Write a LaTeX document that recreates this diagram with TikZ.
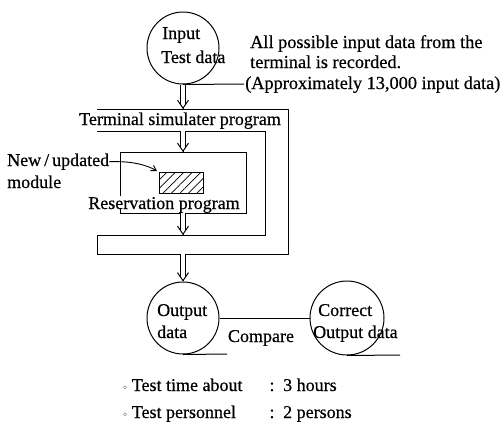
\documentclass[tikz,border=0pt]{standalone}
\usepackage{fontspec}
\setmainfont{Liberation Serif}[FakeBold=0.5]
\usetikzlibrary{arrows.meta,patterns.meta,calc}
\begin{document}
\begin{tikzpicture}[x=1pt,y=-1pt,
  every node/.style={font=\fontsize{18}{22}\selectfont, inner sep=0pt},
  notetext/.style={font=\fontsize{18.3}{22}\selectfont},
  ln/.style={line width=1pt},
  datacirc/.style={circle, draw, line width=1pt, minimum size=#1, inner sep=0pt},
  dblshaft/.style={line width=1pt, double, double distance=3.4pt, shorten >=4.5pt},
  vhead/.style={line width=1pt, -{Straight Barb[length=8pt,width=11pt]}},
  thinarrow/.style={line width=0.9pt, -{Straight Barb[length=5pt,width=6pt]}},
  hatched/.style={draw, line width=1pt, pattern={Lines[angle=45,distance=6pt,line width=0.7pt]}}
]
\useasboundingbox (0,0) rectangle (503,424);
% hollow flow arrow: double shaft ending in an open V head
\newcommand\flowarrow[2]{%
  \draw[dblshaft] (#1) -- (#2);
  \draw[vhead] ($(#2)+(0,-1)$) -- (#2);}

% input tape
\node[datacirc=72pt] (in) at (183,48) {};
\node[anchor=base west] (inA) at (162,39) {Input};
\node[anchor=base west] (inB) at (161,63) {Test data};
\coordinate (intail) at (244,84);
\draw[ln] (in.south) -- (intail);

% note on the recorded data
\node[notetext, anchor=base west] (note1) at (250,48) {All possible input data from the};
\node[notetext, anchor=base west] (note2) at (250,68) {terminal is recorded.};
\node[notetext, anchor=base west] (note3) at (245,89) {(Approximately 13,000 input data)};

% terminal simulator frame
\draw[ln] (97,109) -- (288,109) -- (288,254) -- (97,254) -- (97,235)
  -- (265,235) -- (265,131) -- (97,131);
\node[anchor=base] (term) at (180,125) {Terminal simulater program};

% reservation program box
\draw[ln] (120,196) -- (120,152) -- (246,152) -- (246,213) -- (120,213) -- (120,209);
\node[anchor=base] (res) at (164,209) {Reservation program};
\node[hatched, minimum width=44pt, minimum height=21pt] (mod) at (181,182.5) {};

% new / updated module label
\node[anchor=base west] (nu) at (7,166) {New\,/\,updated};
\node[anchor=base west] (numod) at (7,188) {module};
\coordinate (modtip) at (157,171);
\draw[thinarrow] (nu.east) -- ++(9,0) .. controls +(14,0) and +(-10,-6) .. (modtip);

% flow arrows
\coordinate (f1) at (183,109);
\coordinate (f2) at (183,131);
\coordinate (b1) at (183,152);
\coordinate (b2) at (183,213);
\coordinate (f3) at (183,235);
\coordinate (f4) at (183,254);
\flowarrow{in.south}{f1}
\flowarrow{f2}{b1}
\flowarrow{b2}{f3}

% output tapes
\node[datacirc=72pt] (out) at (183,318) {};
\node[anchor=base west] (outA) at (157,316) {Output};
\node[anchor=base west] (outB) at (157,338) {data};
\coordinate (outtail) at (227,354);
\draw[ln] (out.south) -- (outtail);
\flowarrow{f4}{out.north}

\node[datacirc=74pt] (cor) at (347,318) {};
\node[anchor=base west] (corA) at (318,316) {Correct};
\node[anchor=base west] (corB) at (313,338) {Output data};
\coordinate (cortail) at (400,355);
\draw[ln] (cor.south) -- (cortail);

\draw[ln] (out.east) -- (cor.west);
\node[anchor=base] (cmp) at (261,342) {Compare};

% test summary
\node[anchor=base west] (t1) at (123,391) {\raisebox{2pt}{\scriptsize$\circ$}\ Test time about};
\node[anchor=base] (c1) at (272,391) {:};
\node[anchor=base west] (v1) at (283,391) {3 hours};
\node[anchor=base west] (t2) at (123,418) {\raisebox{2pt}{\scriptsize$\circ$}\ Test personnel};
\node[anchor=base] (c2) at (272,418) {:};
\node[anchor=base west] (v2) at (283,418) {2 persons};
\end{tikzpicture}
\end{document}
